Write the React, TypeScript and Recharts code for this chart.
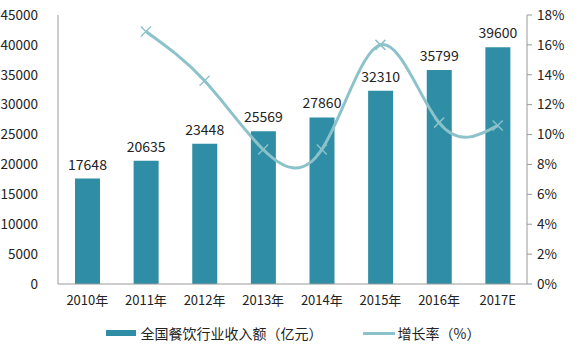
import {
  ComposedChart,
  Bar,
  Line,
  XAxis,
  YAxis,
  LabelList,
  Legend,
} from "recharts";

const years = ["2010年", "2011年", "2012年", "2013年", "2014年", "2015年", "2016年", "2017E"];
const revenue = [17648, 20635, 23448, 25569, 27860, 32310, 35799, 39600];
const growth = [null, 16.9, 13.6, 9.0, 9.0, 16.0, 10.8, 10.6];
const leftTicks = [0, 5000, 10000, 15000, 20000, 25000, 30000, 35000, 40000, 45000];
const rightTicks = [0, 2, 4, 6, 8, 10, 12, 14, 16, 18];

const data = years.map((year, i) => ({
  year,
  revenue: revenue[i],
  growth: growth[i],
}));

const barColor = "#2f8ea5";
const lineColor = "#8cc2c9";
const font = "'Noto Sans CJK SC', 'Noto Sans', sans-serif";

const CrossDot = (props: any) => {
  const { cx, cy } = props;
  if (cx == null || cy == null) return null;
  const s = 5;
  return (
    <g stroke={lineColor} strokeWidth={1.5}>
      <line x1={cx - s} y1={cy - s} x2={cx + s} y2={cy + s} />
      <line x1={cx - s} y1={cy + s} x2={cx + s} y2={cy - s} />
    </g>
  );
};

const renderLegend = () => (
  <div
    style={{
      display: "flex",
      justifyContent: "center",
      alignItems: "center",
      height: 34,
      fontFamily: font,
      fontSize: 14,
      color: "#222",
      gap: 40,
    }}
  >
    <div style={{ display: "flex", alignItems: "center" }}>
      <span style={{ width: 30, height: 6, background: barColor, marginRight: 5 }} />
      全国餐饮行业收入额（亿元）
    </div>
    <div style={{ display: "flex", alignItems: "center" }}>
      <span style={{ width: 32, height: 3, background: lineColor, marginRight: 3 }} />
      增长率（%）
    </div>
  </div>
);

export default function App() {
  return (
    <div style={{ position: "absolute", left: 0, top: 0, background: "#fff" }}>
      <ComposedChart
        width={586}
        height={356}
        data={data}
        margin={{ top: 15, right: 0, left: 0, bottom: 6 }}
        barCategoryGap="29%"
      >
        <XAxis
          dataKey="year"
          axisLine={{ stroke: "#999" }}
          tickLine={false}
          height={32}
          tick={{ fill: "#222", fontSize: 13, fontFamily: font }}
          tickMargin={6}
        />
        <YAxis
          yAxisId="left"
          domain={[0, 45000]}
          ticks={leftTicks}
          width={58}
          axisLine={{ stroke: "#999" }}
          tickLine={false}
          tick={{ fill: "#222", fontSize: 13.5, fontFamily: font }}
          tickMargin={14}
          interval={0}
        />
        <YAxis
          yAxisId="right"
          orientation="right"
          domain={[0, 18]}
          ticks={rightTicks}
          tickFormatter={(v) => `${v}%`}
          width={59}
          axisLine={{ stroke: "#999" }}
          tickLine={{ stroke: "#999" }}
          tickSize={5}
          tick={{ fill: "#222", fontSize: 13.5, fontFamily: font }}
          tickMargin={5}
          interval={0}
        />
        <Legend verticalAlign="bottom" height={34} content={renderLegend} />
        <Bar
          yAxisId="left"
          dataKey="revenue"
          fill={barColor}
          isAnimationActive={false}
        >
          <LabelList
            dataKey="revenue"
            position="top"
            offset={9}
            style={{ fill: "#222", fontSize: 14, fontFamily: font }}
          />
        </Bar>
        <Line
          yAxisId="right"
          dataKey="growth"
          type="natural"
          stroke={lineColor}
          strokeWidth={3}
          dot={<CrossDot />}
          activeDot={false}
          connectNulls={false}
          isAnimationActive={false}
        />
      </ComposedChart>
    </div>
  );
}
